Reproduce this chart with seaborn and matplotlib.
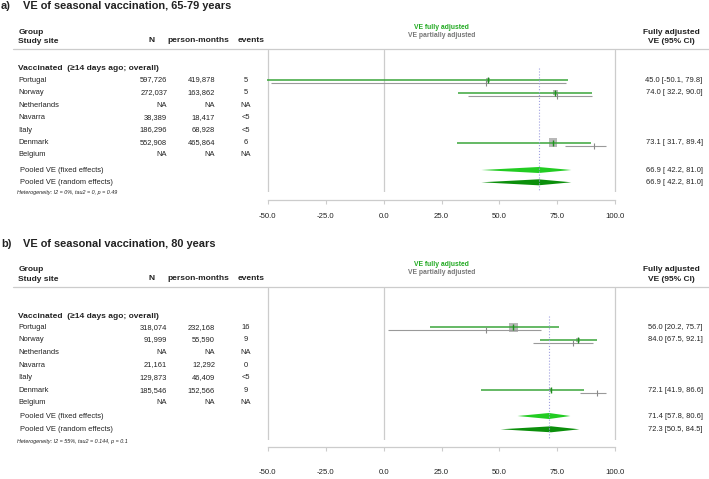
import numpy as np
import pandas as pd
import matplotlib.pyplot as plt
import seaborn as sns

nan = np.nan

# ---- data ----
sites = ['Portugal', 'Norway', 'Netherlands', 'Navarra', 'Italy', 'Denmark', 'Belgium']

# a) 65-79 years
a_n = ['597,726', '272,037', 'NA', '38,389', '186,296', '552,908', 'NA']
a_pm = ['419,878', '163,862', 'NA', '18,417', '68,928', '465,864', 'NA']
a_events = ['5', '5', 'NA', '<5', '<5', '6', 'NA']
a_full = [45.0, 74.0, nan, nan, nan, 73.1, nan]
a_full_lo = [-50.1, 32.2, nan, nan, nan, 31.7, nan]
a_full_hi = [79.8, 90.0, nan, nan, nan, 89.4, nan]
a_part = [44.0, 74.9, nan, nan, nan, 90.9, nan]
a_part_lo = [-48.6, 36.5, nan, nan, nan, 78.5, nan]
a_part_hi = [78.7, 90.0, nan, nan, nan, 96.2, nan]
a_weight = [12, 25, nan, nan, nan, 63, nan]
a_fixed = [66.9, 42.2, 81.0]
a_random = [66.9, 42.2, 81.0]
a_het = 'Heterogeneity: I2 = 0%, tau2 = 0, p = 0.49'

# b) 80 years
b_n = ['318,074', '91,999', 'NA', '21,161', '129,873', '185,546', 'NA']
b_pm = ['232,168', '55,590', 'NA', '12,292', '46,409', '152,566', 'NA']
b_events = ['16', '9', 'NA', '0', '<5', '9', 'NA']
b_full = [56.0, 84.0, nan, nan, nan, 72.1, nan]
b_full_lo = [20.2, 67.5, nan, nan, nan, 41.9, nan]
b_full_hi = [75.7, 92.1, nan, nan, nan, 86.6, nan]
b_part = [44.0, 81.8, nan, nan, nan, 92.3, nan]
b_part_lo = [2.0, 64.6, nan, nan, nan, 84.7, nan]
b_part_hi = [67.9, 90.5, nan, nan, nan, 96.2, nan]
b_weight = [70, 17, nan, nan, nan, 13, nan]
b_fixed = [71.4, 57.8, 80.6]
b_random = [72.3, 50.5, 84.5]
b_het = 'Heterogeneity: I2 = 55%, tau2 = 0.144, p = 0.1'

ticks = [-50, -25, 0, 25, 50, 75, 100]

# ---- layout (pixels) ----
W, H = 709, 479
PX_M50, PX_100 = 267.7, 615.3
X0, X1 = -52, 102

panels = [
    dict(tag='a)', title='VE of seasonal vaccination, 65-79 years',
         n=a_n, pm=a_pm, ev=a_events, full=a_full, flo=a_full_lo, fhi=a_full_hi,
         part=a_part, plo=a_part_lo, phi=a_part_hi, w=a_weight,
         fixed=a_fixed, random=a_random, het=a_het,
         title_y=5.8, hdr1=32.3, hdr2=41.7, leg=(27.7, 35.0), rule=49.3,
         top=50, bot=192, row1=80, step=12.5, vacc=68.3, fix_y=170, ran_y=182.3,
         het_y=192.7, spine=200, lab=217),
    dict(tag='b)', title='VE of seasonal vaccination, 80 years',
         n=b_n, pm=b_pm, ev=b_events, full=b_full, flo=b_full_lo, fhi=b_full_hi,
         part=b_part, plo=b_part_lo, phi=b_part_hi, w=b_weight,
         fixed=b_fixed, random=b_random, het=b_het,
         title_y=243.5, hdr1=269.7, hdr2=279.7, leg=(265.0, 273.0), rule=287.3,
         top=288, bot=440, row1=327.3, step=12.57, vacc=316, fix_y=416, ran_y=429.3,
         het_y=441, spine=446.5, lab=473.0),
]

sns.set_theme(style='white')
plt.rcParams['font.family'] = ['Liberation Sans', 'DejaVu Sans']

fig = plt.figure(figsize=(W / 100, H / 100), dpi=100)
canvas = fig.add_axes([0, 0, 1, 1])
canvas.set_xlim(0, W)
canvas.set_ylim(H, 0)
canvas.axis('off')
canvas.set_facecolor('none')

TXT = '#222222'
GREEN = '#3aa63a'
GREY = '#9a9a9a'
scale = (PX_100 - PX_M50) / 150.0

for p in panels:
    # titles / headers
    canvas.text(1, p['title_y'], p['tag'], fontsize=7.9, fontweight='bold', va='center', color=TXT)
    canvas.text(23.3, p['title_y'], p['title'], fontsize=7.9, fontweight='bold', va='center', color=TXT)
    canvas.text(18.3, p['hdr1'], 'Group', fontsize=6, fontweight='bold', va='center', color=TXT)
    canvas.text(18.3, p['hdr2'], 'Study site', fontsize=6, fontweight='bold', va='center', color=TXT)
    canvas.text(151.7, p['hdr2'] - 1.4, 'N', fontsize=6, fontweight='bold', va='center', ha='center', color=TXT)
    canvas.text(198, p['hdr2'] - 1.4, 'person-months', fontsize=6, fontweight='bold', va='center', ha='center', color=TXT)
    canvas.text(251.3, p['hdr2'] - 1.4, 'events', fontsize=6, fontweight='bold', va='center', ha='center', color=TXT)
    canvas.text(441.7, p['leg'][0], 'VE fully adjusted', fontsize=4.9, fontweight='bold', va='center', ha='center', color='#22aa22')
    canvas.text(441.7, p['leg'][1], 'VE partially adjusted', fontsize=4.9, fontweight='bold', va='center', ha='center', color='#777777')
    canvas.text(671, p['hdr1'], 'Fully adjusted', fontsize=6, fontweight='bold', va='center', ha='center', color=TXT)
    canvas.text(671, p['hdr2'], 'VE (95% CI)', fontsize=6, fontweight='bold', va='center', ha='center', color=TXT)
    canvas.axhline(p['rule'], xmin=13 / W, xmax=1, color='#cccccc', lw=0.9)

    rows = [p['row1'] + i * p['step'] for i in range(len(sites))]
    canvas.text(18.3, p['vacc'], 'Vaccinated  (\u226514 days ago; overall)', fontsize=6, fontweight='bold', va='center', color=TXT)
    for i, s in enumerate(sites):
        y = rows[i]
        canvas.text(18.3, y, s, fontsize=5.4, va='center', color=TXT)
        canvas.text(167.3, y, p['n'][i], fontsize=5.4, va='center', ha='right', color=TXT)
        canvas.text(215, y, p['pm'][i], fontsize=5.4, va='center', ha='right', color=TXT)
        canvas.text(245.5, y, p['ev'][i], fontsize=5.4, va='center', ha='center', color=TXT)
    canvas.text(20, p['fix_y'], 'Pooled VE (fixed effects)', fontsize=5.4, va='center', color=TXT)
    canvas.text(20, p['ran_y'], 'Pooled VE (random effects)', fontsize=5.4, va='center', color=TXT)
    canvas.text(17.3, p['het_y'], p['het'], fontsize=3.9, style='italic', va='center', color=TXT)

    # right column: fully adjusted estimates
    los = [v for v in p['flo'] if not np.isnan(v)] + [p['fixed'][1], p['random'][1]]
    wd = max(len(f'{v:.1f}') for v in los)
    est_rows = [(e, l, h, rows[i]) for i, (e, l, h) in enumerate(zip(p['full'], p['flo'], p['fhi'])) if not np.isnan(e)]
    est_rows += [(*p['fixed'], p['fix_y']), (*p['random'], p['ran_y'])]
    for e, l, h, y in est_rows:
        canvas.text(702.7, y, f'{e:.1f} [{l:>{wd}.1f}, {h:.1f}]', fontsize=5.4, va='center', ha='right', color=TXT)

    # forest axes
    left = PX_M50 + (X0 + 50) * scale
    right = PX_100 + (X1 - 100) * scale
    ax = fig.add_axes([left / W, 1 - p['bot'] / H, (right - left) / W, (p['bot'] - p['top']) / H])
    ax.set_facecolor('none')

    df = pd.DataFrame({'site': sites, 'y': rows, 'full': p['full'], 'lo': p['flo'], 'hi': p['fhi'],
                       'part': p['part'], 'plo': p['plo'], 'phi': p['phi'], 'w': p['w']}).dropna()
    df['yp'] = df['y'] + 3

    sns.scatterplot(data=df, x='full', y='y', size='w', sizes=(0, 53), size_norm=(0, 100),
                    marker='s', color='#b8b8b8', linewidth=0, legend=False, ax=ax, zorder=2)
    ax.hlines(df['y'], df['lo'], df['hi'], color=GREEN, lw=1.1, zorder=3)
    ax.hlines(df['yp'], df['plo'], df['phi'], color=GREY, lw=0.8, zorder=3)
    sns.scatterplot(data=df, x='full', y='y', marker='|', s=16, color='#1f8f1f', linewidth=1.0,
                    legend=False, ax=ax, zorder=4)
    sns.scatterplot(data=df, x='part', y='yp', marker='|', s=18, color='#888888', linewidth=0.8,
                    legend=False, ax=ax, zorder=4)

    # pooled diamonds
    for (e, l, h), y, c in [(p['fixed'], p['fix_y'], '#22cc22'), (p['random'], p['ran_y'], '#0b8f0b')]:
        ax.fill([l, e, h, e], [y, y - 3, y, y + 3], color=c, lw=0, zorder=3)

    for v in [-50, 0, 100]:
        ax.axvline(v, color='#cccccc', lw=0.9, zorder=0)
    ax.vlines(p['fixed'][0], p['vacc'], p['bot'], colors='#a0a0e0', linestyles=':', lw=0.8, zorder=5)

    ax.set_xlim(X0, X1)
    ax.set_ylim(p['bot'], p['top'])
    ax.set_xlabel('')
    ax.set_ylabel('')
    for sp in ['top', 'left', 'right']:
        ax.spines[sp].set_visible(False)
    ax.spines['bottom'].set_position(('outward', (p['spine'] - p['bot']) * 0.72))
    ax.spines['bottom'].set_bounds(-50, 100)
    ax.spines['bottom'].set_color('#cccccc')
    ax.spines['bottom'].set_linewidth(0.9)
    ax.set_xticks(ticks)
    ax.set_xticklabels([f'{t:.1f}' for t in ticks])
    ax.set_yticks([])
    ax.tick_params(axis='x', bottom=True, length=4 * 0.72, width=0.8, color='#cccccc',
                   labelsize=5.6, labelcolor=TXT,
                   pad=(p['lab'] - p['spine'] - 4 - 4.2) * 0.72)

fig.savefig('out.png', dpi=100)
